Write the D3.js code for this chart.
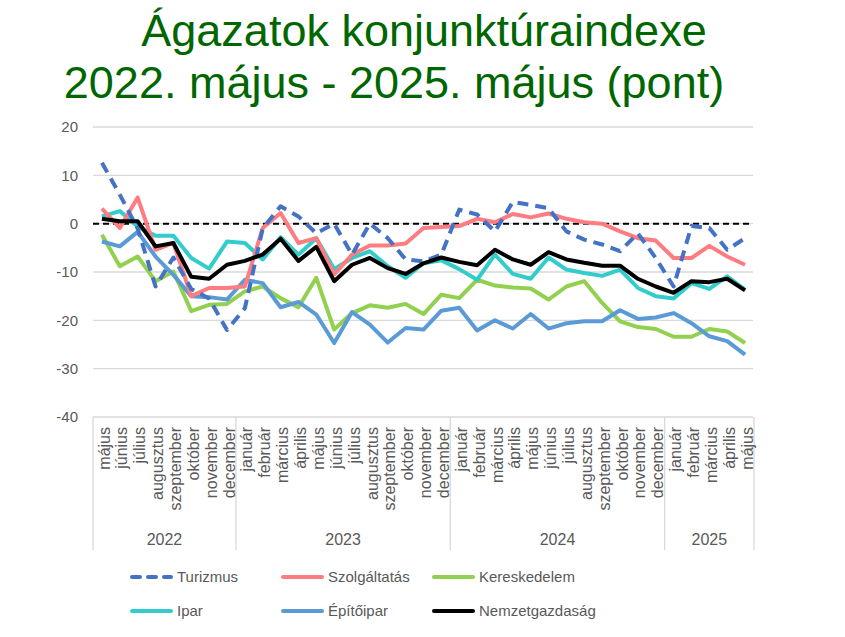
<!DOCTYPE html>
<html>
<head>
<meta charset="utf-8"/>
<script src="https://cdn.jsdelivr.net/npm/d3@7"></script>
<style>
body { margin: 0; background: #fff; }
text { font-family: "Liberation Sans", Arial, sans-serif; }
.grid line { stroke: #d9d9d9; stroke-width: 1.3; }
.axis-text { fill: #595959; }
</style>
</head>
<body>
<svg id="chart" width="845" height="637"></svg>
<script>
// --- data -------------------------------------------------------------
var months = ["május","június","július","augusztus","szeptember","október","november","december",
  "január","február","március","április","május","június","július","augusztus","szeptember","október","november","december",
  "január","február","március","április","május","június","július","augusztus","szeptember","október","november","december",
  "január","február","március","április","május"];
var years = ["2022","2023","2024","2025"];
var yearCounts = [8, 12, 12, 5];
var yTicks = [-40, -30, -20, -10, 0, 10, 20];

var turizmus = [12.6,6,-1,-13,-7,-13.5,-15.5,-22,-17.5,-1,3.6,1.5,-2,0,-6.4,0,-3,-7.4,-7.8,-6.4,2.9,1.9,-1.6,4.5,3.9,3.2,-1.6,-3.3,-4.3,-5.7,-2,-7.1,-13,-0.5,-0.9,-5.4,-3];
var szolgaltatas = [3.1,-0.9,5.4,-5.4,-4,-15,-13.3,-13.3,-13,-0.9,2.2,-4,-3,-10.5,-6.4,-4.5,-4.5,-4.1,-0.9,-0.7,-0.5,1,0.3,2,1.3,2.1,1,0.3,0,-1.6,-3,-3.5,-7.1,-7.1,-4.6,-6.8,-8.5];
var kereskedelem = [-2.3,-8.8,-6.8,-11.9,-9.9,-18.1,-16.8,-16.6,-14,-13,-15.4,-17.3,-11.2,-21.9,-18.5,-16.9,-17.4,-16.6,-18.7,-14.7,-15.4,-11.6,-12.8,-13.2,-13.4,-15.7,-13,-11.9,-16.4,-20.2,-21.4,-21.8,-23.4,-23.4,-21.8,-22.3,-24.7];
var ipar = [1.5,2.6,-0.6,-2.5,-2.5,-7.1,-9.3,-3.7,-4,-7.4,-2.8,-6.4,-3,-9.4,-7.1,-5.7,-8.8,-11.2,-8.2,-7.6,-9.4,-11.6,-6.4,-10.4,-11.4,-7,-9.5,-10.2,-10.8,-9.5,-13.3,-15,-15.5,-12.3,-13.5,-10.9,-13.7];
var epitoipar = [-3.7,-4.7,-1.7,-6.8,-10.6,-15,-15.2,-15.7,-11.6,-12.3,-17.3,-16.2,-18.8,-24.7,-18.3,-20.9,-24.6,-21.6,-21.9,-18,-17.4,-22.1,-20,-21.7,-18.7,-21.7,-20.6,-20.2,-20.2,-17.9,-19.7,-19.4,-18.5,-20.6,-23.3,-24.3,-27.1];
var nemzetgazdasag = [1,0.5,0.5,-4.7,-4,-11,-11.4,-8.5,-7.7,-6.4,-3.1,-7.7,-4.8,-11.9,-8.5,-7.1,-9.2,-10.4,-8.2,-7,-7.9,-8.6,-5.4,-7.4,-8.5,-5.9,-7.4,-8.1,-8.7,-8.7,-11.4,-13,-14.3,-11.9,-12.1,-11.4,-13.8];

var seriesNames = ["Turizmus","Szolgáltatás","Kereskedelem","Ipar","Építőipar","Nemzetgazdaság"];
var seriesValues = [turizmus, szolgaltatas, kereskedelem, ipar, epitoipar, nemzetgazdasag];
var seriesColors = ["#4472c4","#ff7c80","#92d050","#33cccc","#5b9bd5","#000000"];
var drawOrder = [2, 4, 3, 1, 0, 5];

// --- layout -----------------------------------------------------------
var svg = d3.select("#chart");
var plotLeft = 93, plotRight = 754, plotTop = 127, plotBottom = 417;

var x = d3.scaleBand().domain(d3.range(months.length)).range([plotLeft, plotRight]);
var y = d3.scaleLinear().domain([-40, 20]).range([plotBottom, plotTop]);
var cx = function(i) { return x(i) + x.bandwidth() / 2; };

// title
svg.append("text").attr("x", 424).attr("y", 46).attr("text-anchor", "middle")
  .style("font-size", "45px").style("fill", "#006600").text("Ágazatok konjunktúraindexe");
svg.append("text").attr("x", 394).attr("y", 98).attr("text-anchor", "middle")
  .style("font-size", "45px").style("fill", "#006600").text("2022. május - 2025. május (pont)");

// gridlines
svg.append("g").attr("class", "grid")
  .selectAll("line").data(yTicks).enter().append("line")
  .attr("x1", plotLeft).attr("x2", plotRight - 1)
  .attr("y1", function(d) { return y(d); }).attr("y2", function(d) { return y(d); });

// y axis labels
svg.append("g").selectAll("text").data(yTicks).enter().append("text")
  .attr("class", "axis-text")
  .attr("x", 78).attr("y", function(d) { return y(d); }).attr("dy", "0.35em")
  .attr("text-anchor", "end").style("font-size", "15px")
  .text(function(d) { return d; });

// category axis: year separators
var bounds = [0];
yearCounts.forEach(function(c, k) { bounds.push(bounds[k] + c); });
var bx = function(b) { return b < months.length ? x(b) : plotRight; };
svg.append("g").selectAll("line").data(bounds).enter().append("line")
  .attr("x1", bx).attr("x2", bx)
  .attr("y1", plotBottom).attr("y2", 550)
  .attr("stroke", "#d9d9d9").attr("stroke-width", 1.3);

svg.append("g").selectAll("text").data(months).enter().append("text")
  .attr("class", "axis-text")
  .attr("transform", function(d, i) { return "translate(" + (cx(i) + 2) + "," + (plotBottom + 10) + ") rotate(-90)"; })
  .attr("dy", "0.35em").attr("text-anchor", "end").style("font-size", "16px")
  .text(function(d) { return d; });

svg.append("g").selectAll("text").data(years).enter().append("text")
  .attr("class", "axis-text")
  .attr("x", function(d, k) { return (bx(bounds[k]) + bx(bounds[k + 1])) / 2; })
  .attr("y", 545).attr("text-anchor", "middle").style("font-size", "16px")
  .text(function(d) { return d; });

// zero line
svg.append("line").attr("x1", plotLeft).attr("x2", plotRight - 2)
  .attr("y1", y(0)).attr("y2", y(0))
  .attr("stroke", "#000").attr("stroke-width", 2).attr("stroke-dasharray", "6,4");

// series
var line = d3.line().x(function(d, i) { return cx(i); }).y(function(d) { return y(d); });
drawOrder.forEach(function(s) {
  var p = svg.append("path").datum(seriesValues[s])
    .attr("fill", "none").attr("stroke", seriesColors[s]).attr("stroke-width", 4)
    .attr("stroke-linejoin", "round")
    .attr("d", line);
  if (s === 0) p.attr("stroke-dasharray", "11,7");
});

// legend
var legX = [130, 281, 432];
var legY = [577, 611];
var leg = svg.append("g").selectAll("g").data(seriesNames).enter().append("g")
  .attr("transform", function(d, i) { return "translate(" + legX[i % 3] + "," + legY[Math.floor(i / 3)] + ")"; });
leg.append("line").attr("x1", 2).attr("x2", 41).attr("y1", 0).attr("y2", 0)
  .attr("stroke", function(d, i) { return seriesColors[i]; })
  .attr("stroke-width", 4).attr("stroke-linecap", "round")
  .attr("stroke-dasharray", function(d, i) { return i === 0 ? "8,8" : null; });
leg.append("text").attr("class", "axis-text").attr("x", 47).attr("y", 0).attr("dy", "0.35em")
  .style("font-size", "15px").text(function(d) { return d; });
</script>
</body>
</html>
